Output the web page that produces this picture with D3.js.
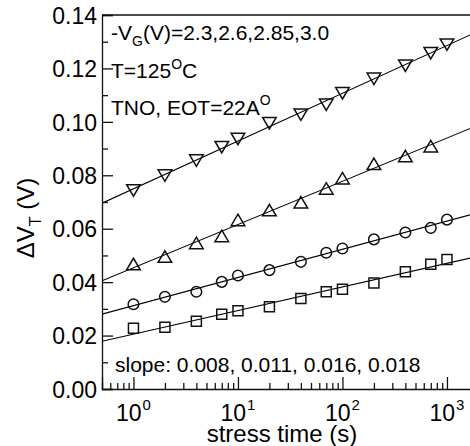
<!DOCTYPE html>
<html>
<head>
<meta charset="utf-8">
<script src="https://cdn.jsdelivr.net/npm/d3@7"></script>
<style>
  body { margin: 0; background: #fff; }
  svg { display: block; font-family: Arial, "Liberation Sans", sans-serif; }
</style>
</head>
<body>
<div id="chart"></div>
<script>
// stress times (s)
const times = [1, 2, 4, 7, 10, 20, 40, 70, 100, 200, 400, 700, 1000];

// dVT (V) per gate voltage
const vg23 = [0.0227, 0.0231, 0.0254, 0.0280, 0.0293, 0.0308, 0.0339, 0.0364, 0.0373, 0.0397, 0.0439, 0.0467, 0.0485];
const vg26 = [0.0317, 0.0345, 0.0364, 0.0401, 0.0425, 0.0445, 0.0476, 0.0510, 0.0526, 0.0560, 0.0586, 0.0603, 0.0634];
const vg285 = [0.0467, 0.0495, 0.0546, 0.0572, 0.0632, 0.0669, 0.0698, 0.0750, 0.0788, 0.0842, 0.0871, 0.0908];
const vg30 = [0.0744, 0.0800, 0.0856, 0.0906, 0.0937, 0.0996, 0.1028, 0.1065, 0.1108, 0.1162, 0.1211, 0.1258, 0.1290];

const yTicks = [0, 0.02, 0.04, 0.06, 0.08, 0.10, 0.12, 0.14];
const yMinor = [0.01, 0.03, 0.05, 0.07, 0.09, 0.11, 0.13];
const xTicks = [1, 10, 100, 1000];
const xTickExp = ['0', '1', '2', '3'];

const series = [
  { vals: vg23, shape: 'square' },
  { vals: vg26, shape: 'circle' },
  { vals: vg285, shape: 'up' },
  { vals: vg30, shape: 'down' }
];

const W = 470, H = 446;
const margin = { left: 102, top: 15, bottom: 389 };

const svg = d3.select('#chart').append('svg')
  .attr('width', W)
  .attr('height', H);

const x = d3.scaleLog()
  .domain([0.5, 2000])
  .range([margin.left, margin.left + Math.log10(4000) * 104.5]);

const y = d3.scaleLinear()
  .domain([0, 0.14])
  .range([margin.bottom, margin.top]);

svg.append('clipPath').attr('id', 'plot-clip')
  .append('rect')
  .attr('x', margin.left).attr('y', margin.top)
  .attr('width', x.range()[1] - margin.left)
  .attr('height', margin.bottom - margin.top);

// Axe Y (ticks vers l'intérieur)
const yAxis = svg.append('g')
  .attr('transform', `translate(${margin.left},0)`)
  .call(d3.axisLeft(y).tickValues(yTicks).tickSize(-11).tickPadding(5)
    .tickFormat(d3.format('.2f')));
svg.append('g')
  .attr('transform', `translate(${margin.left},0)`)
  .call(d3.axisLeft(y).tickValues(yMinor).tickSize(-6).tickFormat(''))
  .select('.domain').remove();

yAxis.selectAll('text')
  .attr('font-size', '23px')
  .attr('fill', '#000')
  .attr('dy', '0.36em');

// Axe X : ticks majeurs + mineurs
const minor = [];
[0.1, 1, 10, 100, 1000].forEach(dec => {
  for (let k = 2; k <= 9; k++) {
    const v = dec * k;
    if (v >= 0.5 && v <= 2000) minor.push(v);
  }
});

svg.append('g')
  .attr('transform', `translate(0,${margin.bottom})`)
  .call(d3.axisBottom(x).tickValues(xTicks).tickSize(-12).tickFormat(''));
svg.append('g')
  .attr('transform', `translate(0,${margin.bottom})`)
  .call(d3.axisBottom(x).tickValues(minor).tickSize(-6).tickFormat(''))
  .select('.domain').remove();

svg.selectAll('.domain, .tick line')
  .attr('stroke', '#111')
  .attr('stroke-width', 1.3);

// Cadre du haut
svg.append('line')
  .attr('x1', margin.left).attr('x2', W + 10)
  .attr('y1', margin.top).attr('y2', margin.top)
  .attr('stroke', '#111').attr('stroke-width', 1.3);

// Labels 10^n
xTicks.forEach((t, i) => {
  const txt = svg.append('text')
    .attr('x', x(t))
    .attr('y', 421)
    .attr('text-anchor', 'middle')
    .attr('font-size', '23px');
  txt.append('tspan').text('10');
  txt.append('tspan').attr('font-size', '15px').attr('dx', 1).attr('dy', -11).text(xTickExp[i]);
});

// Droites de régression (y = a + b log10 t)
const g = svg.append('g').attr('clip-path', 'url(#plot-clip)');

series.forEach(s => {
  const xs = s.vals.map((v, i) => Math.log10(times[i]));
  const mx = d3.mean(xs), my = d3.mean(s.vals);
  let num = 0, den = 0;
  xs.forEach((xv, i) => { num += (xv - mx) * (s.vals[i] - my); den += (xv - mx) ** 2; });
  const b = num / den, a = my - b * mx;
  const [t0, t1] = x.domain();
  g.append('line')
    .attr('x1', x(t0)).attr('y1', y(a + b * Math.log10(t0)))
    .attr('x2', x(t1)).attr('y2', y(a + b * Math.log10(t1)))
    .attr('stroke', '#000')
    .attr('stroke-width', 1.1);
});

// Marqueurs
const shapes = {
  square: 'M-5,-5H5V5H-5Z',
  up: 'M0,-6L6.8,5.5H-6.8Z',
  down: 'M0,6L6.8,-5.5H-6.8Z'
};

series.forEach(s => {
  const pts = g.selectAll(null)
    .data(s.vals.map((v, i) => ({ t: times[i], v })))
    .enter();
  if (s.shape === 'circle') {
    pts.append('circle')
      .attr('cx', d => x(d.t)).attr('cy', d => y(d.v))
      .attr('r', 5.3)
      .attr('fill', 'none').attr('stroke', '#111').attr('stroke-width', 1.5);
  } else {
    pts.append('path')
      .attr('transform', d => `translate(${x(d.t)},${y(d.v)})`)
      .attr('d', shapes[s.shape])
      .attr('fill', 'none').attr('stroke', '#111').attr('stroke-width', 1.5)
      .attr('stroke-linejoin', 'miter');
  }
});

// Annotations
const ann = svg.append('g').attr('font-size', '21px').attr('fill', '#000');

const t1 = ann.append('text').attr('x', 111).attr('y', 40);
t1.append('tspan').text('-V');
t1.append('tspan').attr('font-size', '14px').attr('dy', 6).text('G');
t1.append('tspan').attr('dy', -6).text('(V)=2.3,2.6,2.85,3.0');

const t2 = ann.append('text').attr('x', 111).attr('y', 78);
t2.append('tspan').text('T=125');
t2.append('tspan').attr('font-size', '14px').attr('dy', -9).text('O');
t2.append('tspan').attr('dy', 9).text('C');

const t3 = ann.append('text').attr('x', 111).attr('y', 115);
t3.append('tspan').text('TNO, EOT=22A');
t3.append('tspan').attr('font-size', '14px').attr('dy', -10).text('O');

ann.append('text').attr('x', 115).attr('y', 372)
  .text('slope: 0.008, 0.011, 0.016, 0.018');

// Titres des axes
svg.append('text')
  .attr('x', 282).attr('y', 442)
  .attr('text-anchor', 'middle')
  .attr('font-size', '24px')
  .text('stress time (s)');

const yt = svg.append('text')
  .attr('transform', 'translate(34,218) rotate(-90)')
  .attr('text-anchor', 'middle')
  .attr('font-size', '24px');
yt.append('tspan').text('\u0394V');
yt.append('tspan').attr('font-size', '16px').attr('dy', 7).text('T');
yt.append('tspan').attr('dy', -7).text(' (V)');
</script>
</body>
</html>
